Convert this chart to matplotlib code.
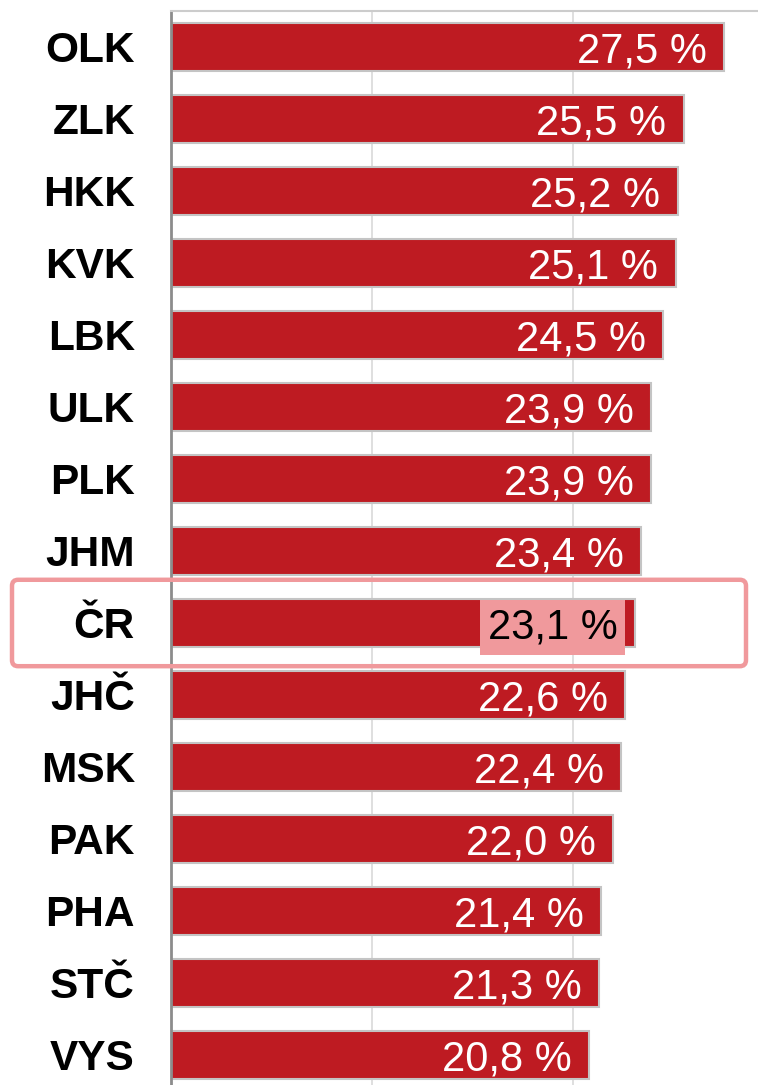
import matplotlib.pyplot as plt
from matplotlib.patches import FancyBboxPatch

# regiony a hodnoty (%)
regions = ['OLK', 'ZLK', 'HKK', 'KVK', 'LBK', 'ULK', 'PLK', 'JHM', 'ČR',
           'JHČ', 'MSK', 'PAK', 'PHA', 'STČ', 'VYS']
values = [27.5, 25.5, 25.2, 25.1, 24.5, 23.9, 23.9, 23.4, 23.1,
          22.6, 22.4, 22.0, 21.4, 21.3, 20.8]
highlight = 'ČR'

bar_color = '#BE1B22'
pink = '#F0999C'

plt.rcParams['font.family'] = ['Liberation Sans', 'DejaVu Sans']

fig = plt.figure(figsize=(7.58, 10.85), dpi=100)
ax = fig.add_axes([171 / 758, 0, 1 - 171 / 758, 1 - 11 / 1085])

ypos = list(range(len(regions)))
ax.barh(ypos, values, height=0.667, color=bar_color, edgecolor='#c4c4c4',
        linewidth=1.5, zorder=2)

ax.set_xlim(0, 587 / 20.1)
ax.set_ylim(14.417, -0.5)
ax.set_xticks([10, 20])
ax.set_xticklabels([])
ax.tick_params(axis='x', length=0)
ax.grid(axis='x', color='#d9d9d9', linewidth=1.2, zorder=0)
ax.set_yticks(ypos)
ax.set_yticklabels(regions, fontsize=30.5, fontweight='bold')
ax.tick_params(axis='y', length=0, pad=26)

for s in ['right', 'bottom']:
    ax.spines[s].set_visible(False)
ax.spines['top'].set_color('#cccccc')
ax.spines['top'].set_linewidth(1.5)
ax.spines['left'].set_color('#8c8c8c')
ax.spines['left'].set_linewidth(2)

# popisky hodnot
for i, (r, v) in enumerate(zip(regions, values)):
    txt = f'{v:.1f} %'.replace('.', ',')
    if r == highlight:
        ax.annotate(txt, (v, i), xytext=(-13, -3), textcoords='offset points',
                    ha='right', va='center', fontsize=30, color='black',
                    bbox=dict(boxstyle='square,pad=0.18', fc=pink, ec='none'),
                    zorder=3)
    else:
        ax.annotate(txt, (v, i), xytext=(-12.5, -3), textcoords='offset points',
                    ha='right', va='center', fontsize=30, color='white', zorder=3)

# zvýraznění ČR
idx = regions.index(highlight)
_, y0 = fig.transFigure.inverted().transform(ax.transData.transform((0, idx + 0.6)))
_, y1 = fig.transFigure.inverted().transform(ax.transData.transform((0, idx - 0.6)))
box = FancyBboxPatch((12 / 758, y0), (746 - 12) / 758, y1 - y0,
                     boxstyle='round,pad=0,rounding_size=0.008',
                     mutation_aspect=758 / 1085,
                     transform=fig.transFigure, fill=False,
                     edgecolor=pink, linewidth=3.2, zorder=5)
fig.add_artist(box)

fig.savefig('out.png', dpi=100)
